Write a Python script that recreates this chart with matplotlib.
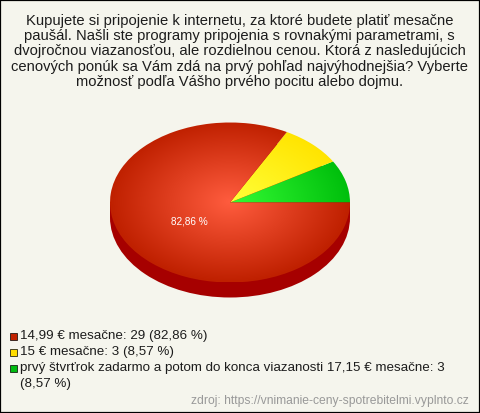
import matplotlib
matplotlib.use("Agg")
import matplotlib.pyplot as plt
import numpy as np
from matplotlib.colors import LinearSegmentedColormap
from matplotlib.patches import Ellipse, Rectangle

plt.rcParams['font.family'] = ['Liberation Sans', 'DejaVu Sans']

# data, order as in the legend
labels = ["14,99 € mesačne", "15 € mesačne",
          "prvý štvrťrok zadarmo a potom do konca viazanosti 17,15 € mesačne"]
counts = [29, 3, 3]
percents = ["82,86 %", "8,57 %", "8,57 %"]
inner_colors = ["#ff5c3e", "#ffff38", "#34fb34"]
outer_colors = ["#bf2000", "#ffe400", "#00bf0c"]
legend_colors = ["#c12200", "#ffdd00", "#00bb11"]

title_lines = [
    "Kupujete si pripojenie k internetu, za ktoré budete platiť mesačne",
    "paušál. Našli ste programy pripojenia s rovnakými parametrami, s",
    "dvojročnou viazanosťou, ale rozdielnou cenou. Ktorá z nasledujúcich",
    "cenových ponúk sa Vám zdá na prvý pohľad najvýhodnejšia? Vyberte",
    "možnosť podľa Vášho prvého pocitu alebo dojmu.",
]
source = "zdroj: https://vnimanie-ceny-spotrebitelmi.vyplnto.cz"

W, H = 480, 413
BG = "#f5f5ed"
fig = plt.figure(figsize=(W / 100, H / 100), dpi=100, facecolor=BG)

# axes over the whole figure, pie radius squashed to 120x80 px
cx, cy, rx, ry, depth = 230, 202.5, 120, 80, 15
ax = fig.add_axes([0, 0, 1, 1])
wedges, _ = ax.pie(counts[::-1], startangle=0, counterclock=True, radius=1,
                   wedgeprops={"linewidth": 0})
ax.set_aspect("auto")
ax.axis("off")

# side of the pie
d = depth / ry
ax.add_patch(Ellipse((0, -d), 2, 2, fc="#a60000", ec="none", zorder=1))
ax.add_patch(Rectangle((-1, -d), 2, d, fc="#a60000", ec="none", zorder=1))

# radial gradient on every slice
gx, gy = np.meshgrid(np.linspace(-1, 1, 500), np.linspace(-1, 1, 500))
dist = np.clip(np.hypot(gx, gy), 0, 1)
for w, c0, c1 in zip(wedges, inner_colors[::-1], outer_colors[::-1]):
    cmap = LinearSegmentedColormap.from_list("g", [c0, c1])
    im = ax.imshow(dist, extent=(-1, 1, -1, 1), origin="lower", cmap=cmap,
                   vmin=0, vmax=1, aspect="auto", zorder=2)
    w.set_facecolor("none")
    im.set_clip_path(w)
ax.set_xlim(-cx / rx, (W - cx) / rx)
ax.set_ylim((cy - H) / ry, cy / ry)


def put(x, y, s, **kw):
    fig.text(x / W, 1 - y / H, s, va="center", **kw)


for i, line in enumerate(title_lines):
    put(239.5, 20.5 + i * 15.35, line, ha="center", fontsize=10.65, color="#1c1c1c")

put(189.5, 222, percents[0], ha="center", fontsize=7.2, color="white")

# legend
rows = [f"{labels[0]}: {counts[0]} ({percents[0]})",
        f"{labels[1]}: {counts[1]} ({percents[1]})",
        f"{labels[2]}: {counts[2]}"]
row_y = [336.5, 352, 368]
for s, y, c in zip(rows, row_y, legend_colors):
    fig.add_artist(Rectangle((10 / W, 1 - (y + 3.5) / H), 7 / W, 7 / H, fc=c, ec="black",
                             lw=0.5, transform=fig.transFigure))
    put(20, y, s, ha="left", fontsize=9.6, color="#1c1c1c")
put(20, 383.5, f"({percents[2]})", ha="left", fontsize=9.6, color="#1c1c1c")

put(469, 401, source, ha="right", fontsize=8.75, color="#999999")

# black frame
fig.add_artist(Rectangle((0, 0), 1, 1, fc="none", ec="black", lw=1.6,
                         transform=fig.transFigure))

fig.savefig("out.png", dpi=100, facecolor=BG)
